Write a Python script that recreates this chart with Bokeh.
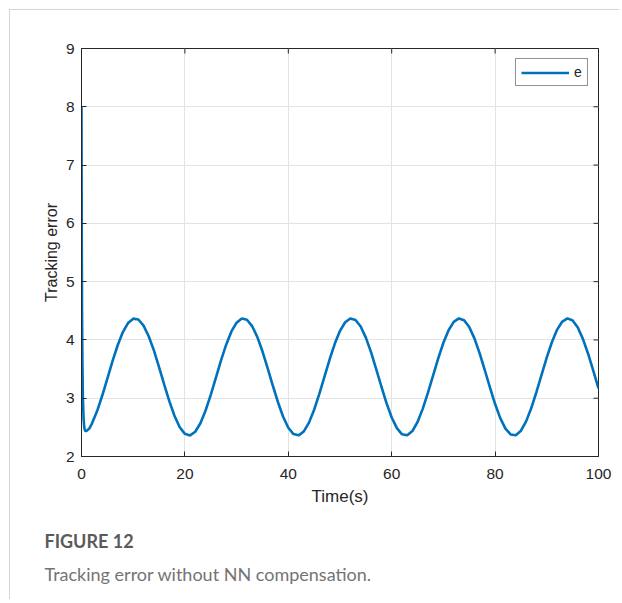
import math
from bokeh.plotting import figure
from bokeh.models import Range1d, Legend, LegendItem, Title, FixedTicker
from bokeh.embed import file_html
from bokeh.resources import INLINE

# ---- data ----
time_s = [0, 0.05, 0.1, 0.18, 0.27, 0.4, 0.55, 0.7, 1.0, 1.5,
          2, 3, 4, 5, 6, 7, 8, 9, 10, 11, 12, 13, 14, 15, 16, 17, 18, 19, 20,
          21, 22, 23, 24, 25, 26, 27, 28, 29, 30, 31, 32, 33, 34, 35, 36, 37, 38, 39, 40,
          41, 42, 43, 44, 45, 46, 47, 48, 49, 50, 51, 52, 53, 54, 55, 56, 57, 58, 59, 60,
          61, 62, 63, 64, 65, 66, 67, 68, 69, 70, 71, 72, 73, 74, 75, 76, 77, 78, 79, 80,
          81, 82, 83, 84, 85, 86, 87, 88, 89, 90, 91, 92, 93, 94, 95, 96, 97, 98, 99, 100]
error_e = [8.0, 5.8, 4.5, 3.6, 3.0, 2.65, 2.49, 2.44, 2.44, 2.48,
           2.561, 2.775, 3.042, 3.337, 3.635, 3.909, 4.135, 4.290, 4.365, 4.350,
           4.246, 4.064, 3.820, 3.534, 3.234, 2.946, 2.694, 2.503, 2.389,
           2.362, 2.424, 2.571, 2.789, 3.058, 3.354, 3.652, 3.923, 4.146, 4.296,
           4.367, 4.346, 4.238, 4.052, 3.805, 3.518, 3.218, 2.931, 2.682, 2.494,
           2.385, 2.363, 2.430, 2.581, 2.803, 3.074, 3.371, 3.668, 3.937, 4.156,
           4.304, 4.368, 4.342, 4.230, 4.040, 3.790, 3.501, 3.201, 2.915, 2.670,
           2.486, 2.381, 2.364, 2.437, 2.592, 2.817, 3.090, 3.388, 3.684, 3.951,
           4.167, 4.309, 4.369, 4.338, 4.221, 4.027, 3.774, 3.484, 3.184, 2.900,
           2.658, 2.478, 2.378, 2.366, 2.443, 2.603, 2.831, 3.107, 3.405, 3.700,
           3.964, 4.177, 4.315, 4.370, 4.334, 4.212, 4.014, 3.759, 3.468, 3.168]
x_ticks = [0, 20, 40, 60, 80, 100]
y_ticks = [2, 3, 4, 5, 6, 7, 8, 9]
series_label = "e"
x_label = "Time(s)"
y_label = "Tracking error"
fig_title = "FIGURE 12"
fig_caption = "Tracking error without NN compensation."

AX = "#262626"
LINE = "#0072BD"

p = figure(width=610, height=590, output_backend="svg", toolbar_location=None,
           x_range=Range1d(x_ticks[0], x_ticks[-1]), y_range=Range1d(y_ticks[0], y_ticks[-1]),
           min_border_left=71, min_border_right=22, min_border_top=38, min_border_bottom=144,
           x_axis_label=x_label, y_axis_label=y_label)
p.styles = {"margin-top": "9px", "margin-left": "9px",
            "border-top": "1px solid #d6d6d6", "border-left": "1px solid #d6d6d6"}

p.outline_line_color = AX
p.outline_line_width = 1
p.background_fill_color = "white"
p.border_fill_color = "white"

for ax in (p.xaxis[0], p.yaxis[0]):
    ax.axis_line_color = AX
    ax.major_tick_line_color = AX
    ax.major_tick_in = 5
    ax.major_tick_out = 0
    ax.minor_tick_line_color = None
    ax.major_label_text_color = AX
    ax.major_label_text_font = "Liberation Sans"
    ax.major_label_text_font_size = "15.5px"
    ax.axis_label_text_color = AX
    ax.axis_label_text_font = "Liberation Sans"
    ax.axis_label_text_font_style = "normal"

p.xaxis[0].ticker = FixedTicker(ticks=x_ticks)
p.yaxis[0].ticker = FixedTicker(ticks=y_ticks)
p.xaxis[0].major_label_standoff = 12
p.xaxis[0].axis_label_standoff = 5
p.xaxis[0].axis_label_text_font_size = "17px"
p.yaxis[0].major_label_standoff = 7
p.yaxis[0].axis_label_standoff = 3
p.yaxis[0].axis_label_text_font_size = "16px"

p.xgrid.ticker = FixedTicker(ticks=x_ticks)
p.ygrid.ticker = FixedTicker(ticks=y_ticks)
p.grid.grid_line_color = "#e3e3e3"
p.grid.grid_line_width = 1

# box ticks (inward) on the top and right edges, half of each dash is clipped by the frame
p.scatter(x=x_ticks, y=[y_ticks[-1]] * len(x_ticks), marker="dash", size=10,
          angle=math.pi / 2, line_color=AX, line_width=1)
p.scatter(x=[x_ticks[-1]] * len(y_ticks), y=y_ticks, marker="dash", size=10,
          line_color=AX, line_width=1)

r = p.line(time_s, error_e, line_color=LINE, line_width=2.6)

legend = Legend(items=[LegendItem(label=series_label, renderers=[r])],
                location="top_right", margin=10, padding=5, spacing=0,
                glyph_width=48, glyph_height=15, label_height=15, label_width=8,
                label_standoff=5,
                label_text_font="Liberation Sans", label_text_font_size="14px",
                label_text_color=AX, border_line_color=AX, border_line_width=1,
                background_fill_color="white", background_fill_alpha=1)
p.add_layout(legend)

t1 = Title(text=fig_title, align="left", offset=-37, standoff=38,
           text_font="Lato", text_font_style="bold", text_font_size="18px",
           text_color="#5a5a5a")
t2 = Title(text=fig_caption, align="left", offset=-37, standoff=-19,
           text_font="Lato", text_font_style="normal", text_font_size="18px",
           text_color="#747474")
p.add_layout(t1, "below")
p.add_layout(t2, "below")

open("out.html", "w").write(file_html(p, INLINE))
